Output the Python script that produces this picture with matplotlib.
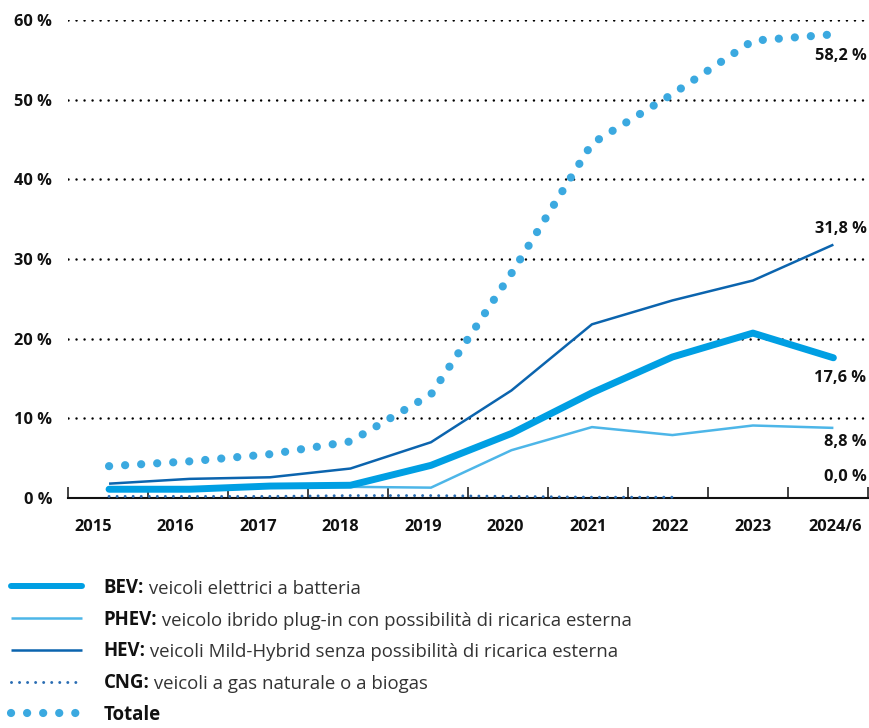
import numpy as np
import matplotlib
matplotlib.use('Agg')
import matplotlib.pyplot as plt
from matplotlib.lines import Line2D

plt.rcParams['font.family'] = ['Open Sans', 'DejaVu Sans']

# ---- data ----
years = ['2015', '2016', '2017', '2018', '2019', '2020', '2021', '2022', '2023', '2024/6']
bev = [1.1, 1.1, 1.5, 1.6, 4.1, 8.1, 13.2, 17.7, 20.7, 17.6]
phev = [0.9, 1.0, 1.4, 1.4, 1.3, 6.0, 8.9, 7.9, 9.1, 8.8]
hev = [1.8, 2.4, 2.6, 3.7, 7.0, 13.5, 21.8, 24.8, 27.3, 31.8]
cng = [0.2, 0.2, 0.2, 0.3, 0.3, 0.2, 0.1, 0.1, np.nan, np.nan]
cng_last = 0.0
totale = [4.0, 4.6, 5.5, 7.1, 13.0, 28.2, 44.5, 50.7, 57.4, 58.2]
yticks = [0, 10, 20, 30, 40, 50, 60]

c_bev = '#009fe3'
c_phev = '#4db6e8'
c_hev = '#0b64ae'
c_cng = '#2a6db3'
c_tot = '#3ba9e0'

fig = plt.figure(figsize=(8.69, 7.28), dpi=100)
ax = fig.add_axes([68 / 869, (728 - 498) / 728, 800 / 869, 478 / 728])

x = np.arange(len(years))
ax.set_xlim(-0.51, 9.43)
ax.set_ylim(0, 60)

# grid
for yv in yticks[1:]:
    ax.axhline(yv, color='black', lw=1.8, linestyle=(0, (0.01, 3.2)),
               dash_capstyle='round', zorder=1)

# series
ax.plot(x, phev, color=c_phev, lw=1.8, zorder=3, solid_capstyle='butt')
ax.plot(x, hev, color=c_hev, lw=1.8, zorder=3, solid_capstyle='butt')
ax.plot(x, bev, color=c_bev, lw=5, zorder=4, solid_capstyle='round',
        solid_joinstyle='round')
ax.plot(x, cng, color=c_cng, lw=2.16, linestyle=(0, (0.01, 2.67)),
        dash_capstyle='round', zorder=5, clip_on=False)
ax.plot(x, totale, color=c_tot, lw=5.9, linestyle=(0, (0.01, 1.95)),
        dash_capstyle='round', zorder=5, clip_on=False)

# end labels
def fmt(v):
    return f"{v:.1f}".replace('.', ',') + ' %'

end_labels = [(totale[-1], -22), (hev[-1], 16), (bev[-1], -20), (phev[-1], -14), (cng_last, 21)]
for v, dy in end_labels:
    ax.annotate(fmt(v), xy=(x[-1], v), xytext=(33, dy), textcoords='offset pixels',
                ha='right', va='center', fontsize=11.8, fontweight='bold',
                color='#111111', annotation_clip=False)

# axes styling
for s in ['top', 'right', 'left']:
    ax.spines[s].set_visible(False)
ax.spines['bottom'].set_linewidth(1.5)
ax.spines['bottom'].set_color('#111111')
ax.spines['bottom'].set_zorder(2)

ax.set_yticks(yticks)
ax.set_yticklabels([f"{v} %" for v in yticks])
ax.tick_params(axis='y', length=0, pad=11.5, labelsize=11.8, labelcolor='#111111')
for t in ax.get_yticklabels():
    t.set_fontweight('bold')

bounds = np.linspace(-0.51, 9.43, 11)
ax.set_xticks(bounds)
ax.set_xticklabels([])
ax.tick_params(axis='x', which='major', direction='in', length=8, width=1.1,
               color='#111111')
label_pos = np.arange(len(years)) * 1.025 - 0.2
ax.set_xticks(label_pos, minor=True)
ax.set_xticklabels(years, minor=True)
ax.tick_params(axis='x', which='minor', length=0, pad=15, labelsize=11.8,
               labelcolor='#111111')
for t in ax.get_xticklabels(minor=True):
    t.set_fontweight('bold')

# legend
handles = [
    Line2D([], [], color=c_bev, lw=4.3, solid_capstyle='round'),
    Line2D([], [], color=c_phev, lw=1.8, solid_capstyle='butt'),
    Line2D([], [], color=c_hev, lw=1.8, solid_capstyle='butt'),
    Line2D([], [], color=c_cng, lw=2.16, linestyle=(0, (0.01, 2.67)), dash_capstyle='round'),
    Line2D([], [], color=c_tot, lw=5.9, linestyle=(0, (0.01, 1.95)), dash_capstyle='round'),
]
prefixes = ['BEV:', 'PHEV:', 'HEV:', 'CNG:', 'Totale']
rests = [' veicoli elettrici a batteria',
         ' veicolo ibrido plug-in con possibilità di ricarica esterna',
         ' veicoli Mild-Hybrid senza possibilità di ricarica esterna',
         ' veicoli a gas naturale o a biogas',
         '']
fs_leg = 13.4
leg = ax.legend(handles, prefixes, loc='upper left',
                bbox_to_anchor=(11 / 869, (728 - 578) / 728),
                bbox_transform=fig.transFigure, frameon=False,
                prop={'family': ['Open Sans', 'DejaVu Sans'], 'weight': 'bold', 'size': fs_leg},
                handlelength=3.82, handletextpad=1.15, labelspacing=0.63,
                borderpad=0, borderaxespad=0)
for t, rest in zip(leg.get_texts(), rests):
    t.set_color('#111111')
    if rest:
        ax.annotate(rest, xy=(1, 0), xycoords=t, xytext=(0, 0),
                    textcoords='offset pixels', ha='left', va='bottom',
                    fontsize=fs_leg, color='#333333', annotation_clip=False, zorder=10)

fig.savefig('out.png', dpi=100)
